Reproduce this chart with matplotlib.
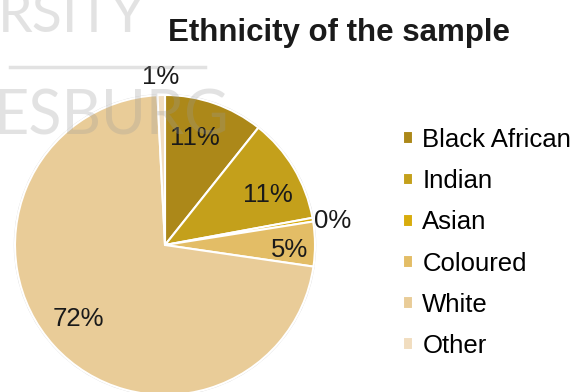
import matplotlib
matplotlib.use('Agg')
import matplotlib.pyplot as plt
from matplotlib.patches import Circle
import numpy as np

plt.rcParams['font.family'] = ['Liberation Sans', 'DejaVu Sans']

# ── DATA ──────────────────────────────────────────────────────────────────────
groups = ["Black African", "Indian", "Asian", "Coloured", "White", "Other"]
shares = [10.7, 11.4, 0.4, 4.8, 71.9, 0.8]          # percent of sample
colors = ["#AC8819", "#C4A01B", "#D8AC0C", "#E3BD66", "#E9CC98", "#F1DDBF"]

# label placement per slice: distance from centre (fraction of radius)
# and a small angular nudge (degrees) off the slice's mid-angle
label_r = [0.74, 0.76, 1.13, 0.83, 0.76, 1.12]
label_dtheta = [3.5, -5, -1.5, -2.5, -2, 0]

W, H = 587, 392
fig = plt.figure(figsize=(W / 100, H / 100), dpi=100)

# pie axes: centre at (165, 245) px, radius 150 px
cx, cy, rad = 165, 245, 150
ax = fig.add_axes([(cx - rad) / W, (H - cy - rad) / H, 2 * rad / W, 2 * rad / H])

ax.add_patch(Circle((0, 0), 1.008, facecolor="#d9d9d9", edgecolor="none", zorder=0))
wedges, _ = ax.pie(shares, colors=colors, startangle=90, counterclock=False,
                   radius=1, wedgeprops=dict(edgecolor="white", linewidth=1.5))
for w in wedges:
    w.set_zorder(1)

# percentage labels
for w, val, r, dt in zip(wedges, shares, label_r, label_dtheta):
    mid = np.deg2rad((w.theta1 + w.theta2) / 2 + dt)
    ax.text(r * np.cos(mid), r * np.sin(mid), f"{val:.0f}%",
            ha="center", va="center", fontsize=18.5, color="#1a1a1a", zorder=3)

ax.set_xlim(-1, 1)
ax.set_ylim(-1, 1)
ax.set_aspect("equal")
ax.axis("off")
for child in ax.get_children():
    child.set_clip_on(False)

fig.text(339 / W, 1 - 33 / H, "Ethnicity of the sample", ha="center", va="center",
         fontsize=22.5, fontweight="bold", color="#1a1a1a")

fig.legend(wedges, groups, loc="center left", bbox_to_anchor=(403 / W, 1 - 243 / H),
           frameon=False, fontsize=18.5, handlelength=0.4, handleheight=0.4,
           handletextpad=0.35, labelspacing=0.67, borderpad=0, borderaxespad=0)

# faint university watermark in the background
wm = dict(color="#9a9a9a", alpha=0.28, fontsize=40,
          family=["Lato", "DejaVu Sans"], zorder=10)
fig.text(-0.004, 1 - 17 / H, "RSITY", ha="left", va="center", **wm)
fig.text(-0.012, 1 - 117 / H, "ESBURG", ha="left", va="center",
         **{**wm, "fontsize": 44})
fig.add_artist(plt.Line2D([10 / W, 205 / W], [1 - 67 / H, 1 - 67 / H],
                          color="#9a9a9a", alpha=0.28, linewidth=2.5, zorder=10))

fig.savefig("out.png", dpi=100)
